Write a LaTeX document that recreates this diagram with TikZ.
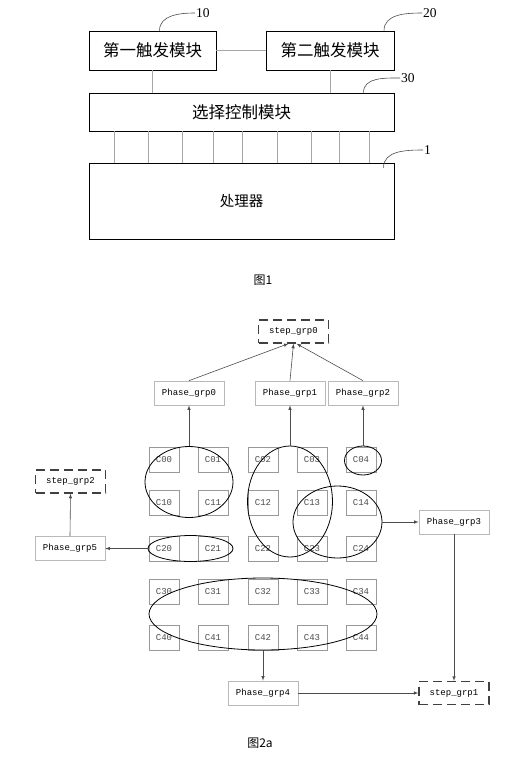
\documentclass[tikz,border=0pt]{standalone}
\usepackage{fontspec}
\setmainfont{Liberation Serif}
\setmonofont{Liberation Mono}
\newfontfamily\cjk{Noto Sans CJK SC}
\usepackage{tikz}
\usetikzlibrary{shapes.geometric, arrows}
\tikzstyle{module} = [rectangle, 
draw=black, 
line width=0.8pt, 
inner sep=0pt, 
text centered, 
font=\cjk\fontsize{16.5}{16.5}\selectfont]
\tikzstyle{phase} = [rectangle, 
minimum width=70pt, 
minimum height=24pt, 
draw=gray!55, 
line width=0.7pt, 
font=\ttfamily\fontsize{9}{9}\selectfont]
\tikzstyle{stepbox} = [rectangle, 
minimum width=70pt, 
minimum height=23pt, 
draw=black!75, 
line width=1.3pt, 
dash pattern=on 9pt off 5pt, % long dashes
font=\ttfamily\fontsize{9}{9}\selectfont]
\tikzstyle{cell} = [rectangle, 
minimum width=30pt, 
minimum height=25pt, 
draw=gray!80, 
line width=0.8pt, 
text=black!70, 
font=\ttfamily\fontsize{9}{9}\selectfont]
\tikzstyle{group} = [ellipse, draw=black, line width=0.8pt, inner sep=0pt]
\tikzstyle{tag} = [font=\fontsize{13.5}{13.5}\selectfont, anchor=west, inner sep=1pt]
\tikzstyle{wire} = [draw=gray!70, line width=0.6pt]
\tikzstyle{leader} = [draw=black!70, line width=0.6pt]
\tikzstyle{arrow} = [draw=black!70, line width=0.6pt, ->, >=latex]

\begin{document}
\begin{tikzpicture}[x=1pt, y=-1pt]
\useasboundingbox (0,0) rectangle (520,769);

% Fig. 1
\node (trig1) [module, minimum width=127pt, minimum height=39pt] at (152.5,50.5) {第一触发模块};
\node (trig2) [module, minimum width=128pt, minimum height=39pt] at (330,50.5) {第二触发模块};
\node (sel) [module, minimum width=305pt, minimum height=38pt] at (241.5,112) {选择控制模块};
\node (cpu) [module, minimum width=305pt, minimum height=76pt, font=\cjk\fontsize{14.5}{14.5}\selectfont] at (241.5,201) {处理器};

\node (l10) [tag] at (195,13) {10};
\node (l20) [tag] at (422,13) {20};
\node (l30) [tag] at (400,78) {30};
\node (l1) [tag] at (423,150) {1};

\draw [wire] (trig1) -- (trig2);
\draw [wire] (trig1.south) -- (trig1.south |- sel.north);
\draw [wire] (trig2.south) -- (trig2.south |- sel.north);
\foreach \x in {114,148,182,213,242,277,311,339,369}
  \draw [wire] (\x,0 |- sel.south) -- (\x,0 |- cpu.north);

\draw [leader] ([xshift=7pt]trig1.north) to[out=90, in=180] (l10.west);
\draw [leader] ([xshift=54pt]trig2.north) to[out=90, in=180] (l20.west);
\draw [leader] ([xshift=122pt]sel.north) to[out=90, in=180] (l30.west);
\draw [leader] ([xshift=142pt, yshift=-5pt]cpu.north) to[out=90, in=180] (l1.west);

\node (cap1) [font=\cjk\fontsize{12}{12}\selectfont] at (263,280) {图1};

% Fig. 2a
\node (s0) [stepbox] at (293.5,331.5) {step\_grp0};
\node (p0) [phase] at (189,393) {Phase\_grp0};
\node (p1) [phase] at (290,393) {Phase\_grp1};
\node (p2) [phase] at (363,393) {Phase\_grp2};

\foreach \r/\y in {0/459.5,1/502.5,2/548.5,3/591.5,4/637.5}
  \foreach \c/\x in {0/164,1/213,2/263,3/312,4/361}
    \node (c\r\c) [cell] at (\x,\y) {C\r\c};

\node (g0) [group, minimum width=88pt, minimum height=71pt] at (189,482) {};
\node (g1) [group, minimum width=85pt, minimum height=111pt] at (290,501.5) {};
\node (g2) [group, minimum width=37pt, minimum height=29pt] at (363,460.5) {};
\node (g3) [group, minimum width=89pt, minimum height=72pt] at (337.5,522) {};
\node (g4) [group, minimum width=228pt, minimum height=72pt] at (263,614) {};
\node (g5) [group, minimum width=85pt, minimum height=26pt] at (190.5,548.5) {};

\node (s2) [stepbox] at (70.5,481.5) {step\_grp2};
\node (p5) [phase] at (70,548.5) {Phase\_grp5};
\node (p3) [phase] at (454,522) {Phase\_grp3};
\node (p4) [phase] at (263,693) {Phase\_grp4};
\node (s1) [stepbox] at (454,693) {step\_grp1};

\draw [arrow] (g0.north) -- (p0.south);
\draw [arrow] (g1.north) -- (p1.south);
\draw [arrow] (g2.north) -- (p2.south);
\draw [arrow] (p0.north) -- ([xshift=-5pt]s0.south);
\draw [arrow] (p1.north) -- (s0.south);
\draw [arrow] (p2.north) -- ([xshift=3pt]s0.south);
\draw [arrow] (g5.west) -- (p5.east);
\draw [arrow] (p5.north) -- (s2.south);
\draw [arrow] (g3.east) -- (p3.west);
\draw [arrow] (p3.south) -- (s1.north);
\draw [arrow] (c42.south) -- (p4.north);
\draw [arrow] (p4.east) -- (s1.west);

\node (cap2) [font=\cjk\fontsize{12}{12}\selectfont] at (260,743) {图2a};

\end{tikzpicture}
\end{document}
